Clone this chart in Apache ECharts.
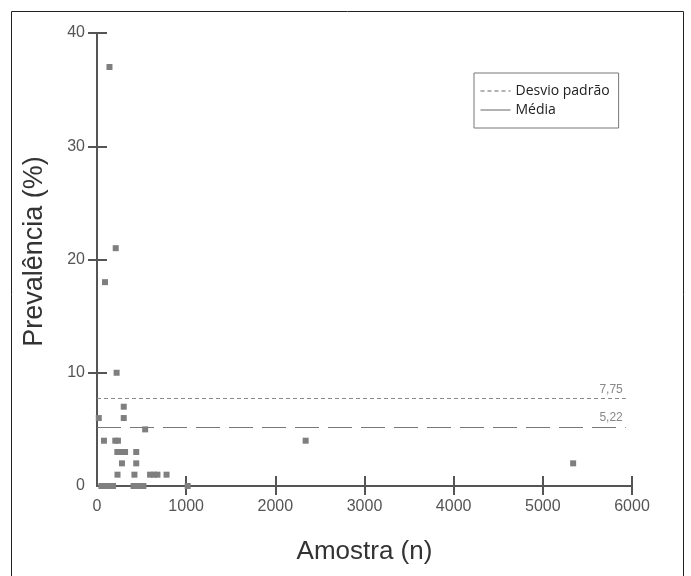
<!DOCTYPE html>
<html>
<head>
<meta charset="utf-8">
<script src="https://cdn.jsdelivr.net/npm/echarts@6/dist/echarts.min.js"></script>
<style>
html,body{margin:0;padding:0;background:#fff;}
#chart{width:691px;height:576px;}
</style>
</head>
<body>
<div id="chart"></div>
<script>
// ---- data ----
const amostra = [140, 210, 90, 220, 300, 20, 300, 540, 78, 205, 235, 2340, 228, 270, 315, 440, 280, 440, 5340, 230, 420, 595, 640, 678, 780, 50, 100, 150, 180, 410, 460, 520, 1017];
const prevalencia = [37, 21, 18, 10, 7, 6, 6, 5, 4, 4, 4, 4, 3, 3, 3, 3, 2, 2, 2, 1, 1, 1, 1, 1, 1, 0, 0, 0, 0, 0, 0, 0, 0];
const xTicks = [0, 1000, 2000, 3000, 4000, 5000, 6000];
const yTicks = [0, 10, 20, 30, 40];
const seriesNames = ['Desvio padrão', 'Média'];
const desvioValue = 7.75;
const mediaValue = 5.22;
const refLineEnd = 5930;
const xTitle = 'Amostra (n)';
const yTitle = 'Prevalência (%)';

const fmt = v => v.toFixed(2).replace('.', ',');
const points = amostra.map((x, i) => [x, prevalencia[i]]);
const xMin = xTicks[0], xMax = xTicks[xTicks.length - 1], xInt = xTicks[1] - xTicks[0];
const yMin = yTicks[0], yMax = yTicks[yTicks.length - 1], yInt = yTicks[1] - yTicks[0];
const axisColor = '#555';

const chart = echarts.init(document.getElementById('chart'), null, {renderer: 'canvas'});
chart.setOption({
  animation: false,
  textStyle: {fontFamily: 'Liberation Sans, Arial, sans-serif'},
  graphic: [{
    type: 'rect', silent: true, z: 100,
    shape: {x: 11.5, y: 11.5, width: 672, height: 600},
    style: {fill: null, stroke: '#222', lineWidth: 1}
  }],
  grid: {left: 97, top: 33, right: 59, bottom: 90, outerBoundsMode: 'none', containLabel: false},
  legend: {
    orient: 'vertical', left: 474, top: 73,
    padding: [11, 9, 11, 6],
    borderColor: '#777', borderWidth: 1,
    itemWidth: 30, itemHeight: 14, itemGap: 5,
    textStyle: {fontSize: 14, color: '#222', fontFamily: 'Open Sans, sans-serif'},
    data: [
      {name: seriesNames[0], icon: 'inherit', itemStyle: {opacity: 0}, lineStyle: {type: [4, 3], color: '#666', width: 1}},
      {name: seriesNames[1], icon: 'inherit', itemStyle: {opacity: 0}, lineStyle: {type: 'solid', color: '#666', width: 1}}
    ]
  },
  xAxis: [{
    type: 'value', min: xMin, max: xMax, interval: xInt, position: 'bottom',
    name: xTitle, nameLocation: 'middle', nameGap: 53, nameMoveOverlap: false,
    nameTextStyle: {fontSize: 26, color: '#333'},
    axisLine: {show: true, onZero: false, lineStyle: {color: axisColor, width: 2}},
    axisTick: {show: true, length: 9, lineStyle: {color: axisColor, width: 2}, customValues: xTicks.slice(1)},
    axisLabel: {color: axisColor, fontSize: 16, margin: 13, customValues: xTicks, formatter: v => String(v)},
    splitLine: {show: false}
  }, {
    type: 'value', min: xMin, max: xMax, interval: xInt, position: 'bottom',
    axisLine: {show: false, onZero: false},
    axisTick: {show: true, inside: true, length: 10, lineStyle: {color: axisColor, width: 2}, customValues: xTicks.slice(1)},
    axisLabel: {show: false},
    splitLine: {show: false}
  }],
  yAxis: [{
    type: 'value', min: yMin, max: yMax, interval: yInt, position: 'left',
    name: yTitle, nameLocation: 'middle', nameGap: 49, nameMoveOverlap: false,
    nameTextStyle: {fontSize: 27, color: '#333', padding: [0, 0, 0, 16]},
    axisLine: {show: true, onZero: false, lineStyle: {color: axisColor, width: 2}},
    axisTick: {show: true, length: 9, lineStyle: {color: axisColor, width: 2}, customValues: yTicks.slice(1)},
    axisLabel: {color: axisColor, fontSize: 16, margin: 12, customValues: yTicks, formatter: v => String(v)},
    splitLine: {show: false}
  }, {
    type: 'value', min: yMin, max: yMax, interval: yInt, position: 'left',
    axisLine: {show: false, onZero: false},
    axisTick: {show: true, inside: true, length: 10, lineStyle: {color: axisColor, width: 2}, customValues: yTicks.slice(1)},
    axisLabel: {show: false},
    splitLine: {show: false}
  }],
  series: [{
    name: seriesNames[0], type: 'line', data: [], symbol: 'none', color: '#666',
    xAxisIndex: 0, yAxisIndex: 0,
    lineStyle: {color: '#666', type: [4, 3], width: 1},
    markLine: {
      silent: true, symbol: 'none',
      lineStyle: {color: '#888', type: [4, 3], width: 1},
      label: {show: true, position: 'insideEndTop', formatter: fmt(desvioValue), color: '#888', fontSize: 12, distance: 3},
      data: [[{coord: [xMin, desvioValue]}, {coord: [refLineEnd, desvioValue]}]]
    }
  }, {
    name: seriesNames[1], type: 'line', data: [], symbol: 'none', color: '#666',
    xAxisIndex: 0, yAxisIndex: 0,
    lineStyle: {color: '#666', type: 'solid', width: 1},
    markLine: {
      silent: true, symbol: 'none',
      lineStyle: {color: '#777', type: [24, 9], width: 1},
      label: {show: true, position: 'insideEndTop', formatter: fmt(mediaValue), color: '#888', fontSize: 12, distance: 3},
      data: [[{coord: [xMin, mediaValue]}, {coord: [refLineEnd, mediaValue]}]]
    }
  }, {
    name: 'Estudos', type: 'scatter', data: points,
    xAxisIndex: 0, yAxisIndex: 0,
    symbol: 'rect', symbolSize: 6, z: 5,
    itemStyle: {color: '#7f7f7f', opacity: 1}
  }]
});
</script>
</body>
</html>
